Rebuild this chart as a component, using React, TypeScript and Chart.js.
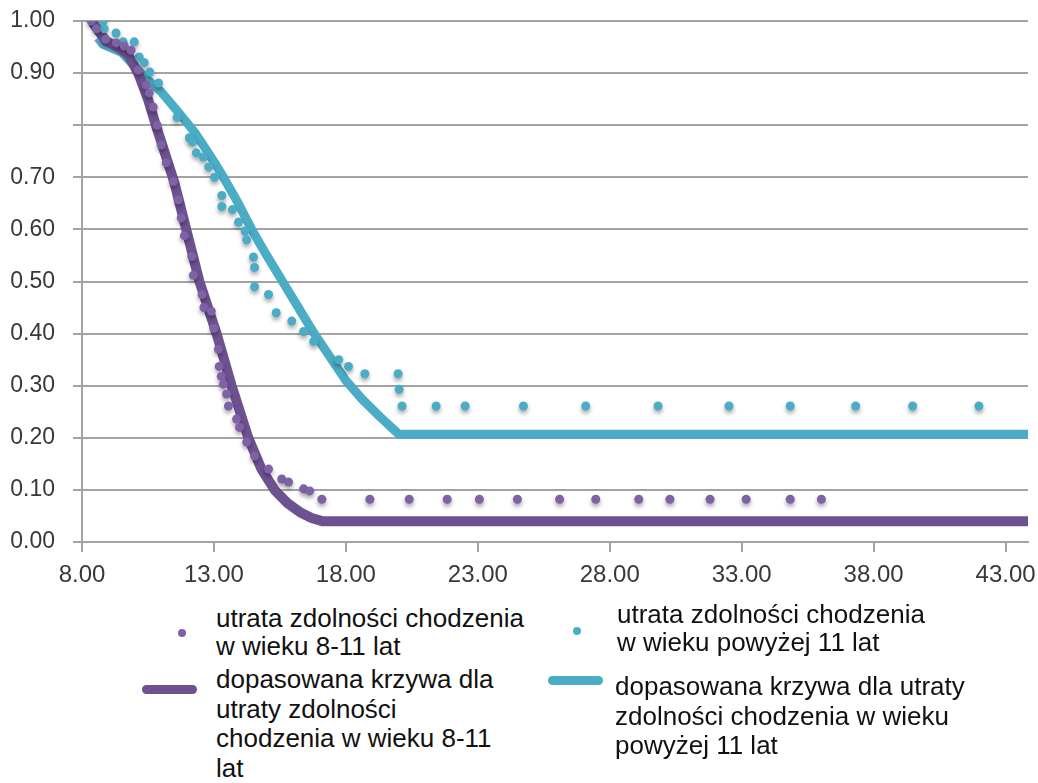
import { useEffect, useRef } from 'react';
import { Chart, registerables } from 'chart.js';

Chart.register(...registerables);

// Axis ticks
const xTicks = [8, 13, 18, 23, 28, 33, 38, 43];
const yTicks = [0, 0.1, 0.2, 0.3, 0.4, 0.5, 0.6, 0.7, 0.8, 0.9, 1.0];
const yHiddenLabels = [0.8];

// Observed: loss of ambulation at age 8-11
const earlyLossX = [8.35, 8.55, 8.9, 9.3, 9.6, 9.86, 10.13, 10.43, 10.55, 10.7, 10.85, 11.0, 11.19, 11.46, 11.65, 11.76, 11.88, 12.16, 12.22, 12.55, 12.62, 12.9, 13.0, 13.17, 13.2, 13.28, 13.36, 13.48, 13.55, 13.86, 13.97, 14.24, 14.54, 15.07, 15.57, 15.83, 16.4, 16.63, 17.09, 18.91, 20.4, 21.84, 23.06, 24.5, 26.1, 27.47, 29.1, 30.28, 31.8, 33.17, 34.84, 36.02];
const earlyLossY = [1.0, 0.985, 0.965, 0.958, 0.952, 0.944, 0.906, 0.877, 0.862, 0.835, 0.8, 0.762, 0.728, 0.692, 0.657, 0.622, 0.588, 0.548, 0.512, 0.475, 0.45, 0.443, 0.41, 0.37, 0.337, 0.318, 0.303, 0.284, 0.261, 0.236, 0.22, 0.192, 0.165, 0.14, 0.121, 0.115, 0.102, 0.098, 0.082, 0.082, 0.082, 0.082, 0.082, 0.082, 0.082, 0.082, 0.082, 0.082, 0.082, 0.082, 0.082, 0.082];

// Observed: loss of ambulation above age 11
const lateLossX = [8.8, 8.84, 9.29, 9.56, 9.98, 10.17, 10.36, 10.57, 10.9, 11.6, 12.07, 12.2, 12.33, 12.6, 12.8, 13.02, 13.3, 13.3, 13.7, 13.93, 14.18, 14.24, 14.5, 14.54, 14.54, 15.07, 15.36, 15.95, 16.4, 16.78, 17.73, 18.1, 18.72, 19.98, 20.02, 20.13, 21.42, 22.52, 24.73, 27.09, 29.83, 32.52, 34.84, 37.32, 39.48, 41.99];
const lateLossY = [1.0, 0.985, 0.977, 0.96, 0.96, 0.931, 0.92, 0.902, 0.881, 0.815, 0.776, 0.768, 0.747, 0.739, 0.72, 0.7, 0.665, 0.644, 0.638, 0.614, 0.597, 0.58, 0.547, 0.527, 0.49, 0.475, 0.44, 0.424, 0.404, 0.385, 0.35, 0.337, 0.323, 0.323, 0.293, 0.261, 0.261, 0.261, 0.261, 0.261, 0.261, 0.261, 0.261, 0.261, 0.261, 0.261];

// Fitted curves
const earlyFitX = [8.4, 8.9, 9.4, 9.75, 10.13, 10.5, 10.8, 11.1, 11.5, 11.95, 12.45, 13.1, 13.67, 14.3, 14.8, 15.3, 15.8, 16.3, 16.7, 17.1, 43.85];
const earlyFitY = [0.997, 0.962, 0.948, 0.935, 0.9, 0.85, 0.8, 0.753, 0.69, 0.6, 0.5, 0.4, 0.3, 0.2, 0.14, 0.1, 0.074, 0.056, 0.046, 0.04, 0.04];
const lateFitX = [8.6, 8.8, 9.5, 9.94, 10.36, 11.0, 11.57, 12.26, 12.64, 13.0, 13.36, 13.9, 14.43, 15.0, 15.6, 16.2, 16.8, 17.4, 18.0, 18.6, 19.3, 20.0, 43.85];
const lateFitY = [0.968, 0.955, 0.94, 0.916, 0.893, 0.864, 0.83, 0.787, 0.758, 0.73, 0.7, 0.652, 0.6, 0.55, 0.5, 0.45, 0.4, 0.355, 0.31, 0.275, 0.24, 0.207, 0.207];

const seriesLabels = [
  'utrata zdolności chodzenia\nw wieku 8-11 lat',
  'utrata zdolności chodzenia\nw wieku powyżej 11 lat',
  'dopasowana krzywa dla\nutraty zdolności\nchodzenia w wieku 8-11\nlat',
  'dopasowana krzywa dla utraty\nzdolności chodzenia w wieku\npowyżej 11 lat',
];

const PURPLE_POINT = '#7f61a6';
const PURPLE_LINE = '#6d5290';
const CYAN = '#4bacc6';
const GRID = '#a3a3a3';
const FONT = "'Liberation Sans', Arial, sans-serif";

const toPoints = (xs: number[], ys: number[]) => xs.map((x, i) => ({ x, y: ys[i] }));

// Soft drop shadow under the scatter markers
const pointShadow = {
  id: 'pointShadow',
  beforeDatasetDraw(chart: any, args: any) {
    const ds = chart.data.datasets[args.index];
    if (ds.showLine) return;
    const ctx = chart.ctx;
    ctx.save();
    ctx.shadowColor = 'rgba(0,0,0,0.35)';
    ctx.shadowBlur = 4;
    ctx.shadowOffsetY = 3;
  },
  afterDatasetDraw(chart: any, args: any) {
    const ds = chart.data.datasets[args.index];
    if (ds.showLine) return;
    chart.ctx.restore();
  },
};

export default function App() {
  const canvasRef = useRef<HTMLCanvasElement | null>(null);

  useEffect(() => {
    document.body.style.margin = '0';
    const canvas = canvasRef.current;
    if (!canvas) return;
    const chart = new Chart(canvas, {
      type: 'scatter',
      data: {
        datasets: [
          {
            label: seriesLabels[0],
            data: toPoints(earlyLossX, earlyLossY),
            backgroundColor: PURPLE_POINT,
            borderColor: PURPLE_POINT,
            pointRadius: 4.5,
            borderWidth: 0,
            showLine: false,
            order: 0,
          },
          {
            label: seriesLabels[1],
            data: toPoints(lateLossX, lateLossY),
            backgroundColor: CYAN,
            borderColor: CYAN,
            pointRadius: 4.5,
            borderWidth: 0,
            showLine: false,
            order: 0,
          },
          {
            label: seriesLabels[2],
            data: toPoints(earlyFitX, earlyFitY),
            borderColor: PURPLE_LINE,
            backgroundColor: PURPLE_LINE,
            borderWidth: 10,
            pointRadius: 0,
            showLine: true,
            tension: 0,
            borderJoinStyle: 'round',
            order: 1,
          },
          {
            label: seriesLabels[3],
            data: toPoints(lateFitX, lateFitY),
            borderColor: CYAN,
            backgroundColor: CYAN,
            borderWidth: 9,
            pointRadius: 0,
            showLine: true,
            tension: 0,
            borderJoinStyle: 'round',
            order: 2,
          },
        ],
      },
      options: {
        animation: false,
        responsive: false,
        devicePixelRatio: 1,
        layout: { padding: { top: 21, right: 10, left: 0, bottom: 0 } },
        plugins: {
          legend: { display: false },
          tooltip: { enabled: false },
        },
        scales: {
          x: {
            type: 'linear',
            min: 8,
            max: 43.85,
            afterBuildTicks: (scale: any) => {
              scale.ticks = xTicks.map((v) => ({ value: v }));
            },
            afterFit: (scale: any) => {
              scale.height = 58;
              scale.paddingLeft = 0;
              scale.paddingRight = 0;
            },
            ticks: {
              callback: (v: any) => Number(v).toFixed(2),
              font: { family: FONT, size: 24 },
              color: '#383838',
              padding: 9,
              maxRotation: 0,
            },
            grid: {
              drawOnChartArea: false,
              drawTicks: true,
              tickLength: 10,
              color: GRID,
              lineWidth: 2,
            },
            border: { display: true, color: GRID, width: 2 },
          },
          y: {
            type: 'linear',
            min: 0,
            max: 1,
            afterBuildTicks: (scale: any) => {
              scale.ticks = yTicks.map((v) => ({ value: v }));
            },
            afterFit: (scale: any) => {
              scale.width = 82;
              scale.paddingTop = 0;
              scale.paddingBottom = 0;
            },
            ticks: {
              callback: (v: any) =>
                yHiddenLabels.some((h) => Math.abs(h - Number(v)) < 1e-9) ? '' : Number(v).toFixed(2),
              font: { family: FONT, size: 23 },
              color: '#383838',
              padding: 18,
            },
            grid: {
              color: GRID,
              lineWidth: 2,
              tickLength: 9,
            },
            border: { display: true, color: GRID, width: 2 },
          },
        },
      },
      plugins: [pointShadow],
    } as any);
    return () => chart.destroy();
  }, []);

  const textStyle = (left: number, top: number, lineHeight: number): any => ({
    position: 'absolute',
    left,
    top,
    fontFamily: FONT,
    fontSize: 26,
    lineHeight: `${lineHeight}px`,
    color: '#111',
    whiteSpace: 'pre',
  });

  const dot = (cx: number, cy: number, color: string): any => ({
    position: 'absolute',
    left: cx - 4,
    top: cy - 4,
    width: 8,
    height: 8,
    borderRadius: '50%',
    background: color,
  });

  const bar = (x1: number, x2: number, cy: number, color: string): any => ({
    position: 'absolute',
    left: x1,
    top: cy - 4.5,
    width: x2 - x1,
    height: 9,
    borderRadius: 4.5,
    background: color,
  });

  return (
    <div style={{ position: 'relative', width: 1038, height: 783, background: '#fff', overflow: 'hidden' }}>
      <canvas ref={canvasRef} width={1038} height={600} style={{ display: 'block' }} />
      <div style={dot(182, 633, PURPLE_POINT)} />
      <div style={textStyle(216, 604, 28)}>{seriesLabels[0]}</div>
      <div style={bar(142, 197, 689, PURPLE_LINE)} />
      <div style={textStyle(216, 665, 29.5)}>{seriesLabels[2]}</div>
      <div style={dot(577, 631, CYAN)} />
      <div style={textStyle(617, 600, 28)}>{seriesLabels[1]}</div>
      <div style={bar(548, 603, 680, CYAN)} />
      <div style={textStyle(615, 672, 29.5)}>{seriesLabels[3]}</div>
    </div>
  );
}
